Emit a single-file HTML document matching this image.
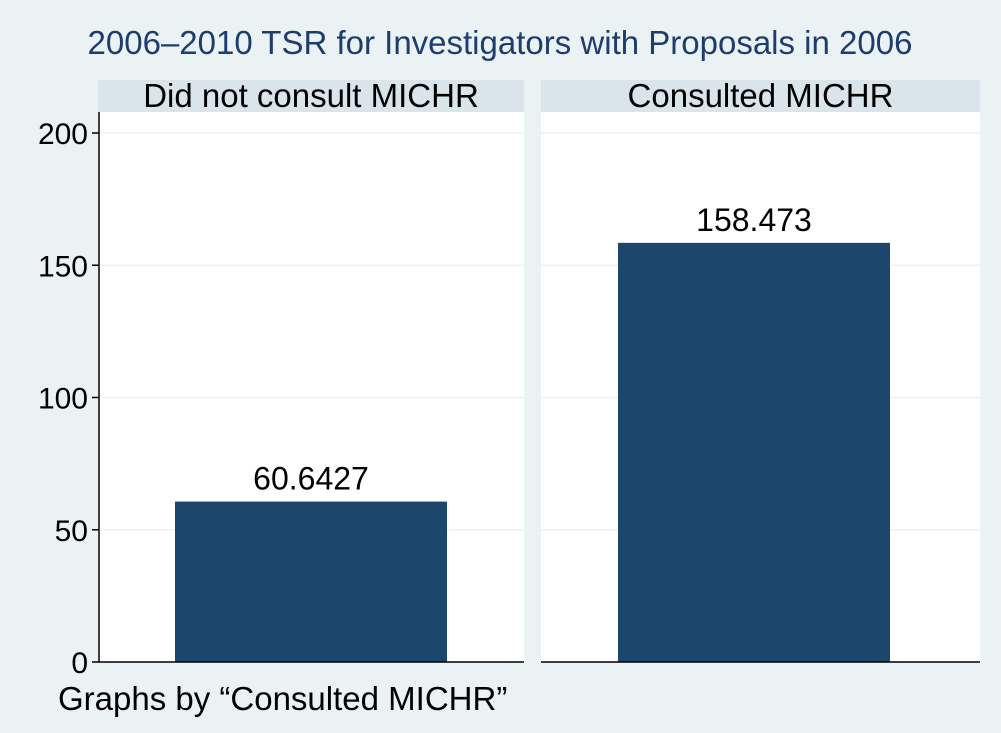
<!DOCTYPE html>
<html><head><meta charset="utf-8"><style>
body{margin:0;background:#eaf2f3;}
svg{display:block;font-family:"Liberation Sans",sans-serif;}
</style></head><body>
<svg width="1001" height="733">
<rect width="1001" height="733" fill="#eaf2f3"/>
<text x="500" y="54" text-anchor="middle" font-size="33" fill="#1e3c6e">2006–2010 TSR for Investigators with Proposals in 2006</text>
<g id="panels"></g>
<text x="58" y="710" font-size="33" fill="#000">Graphs by “Consulted MICHR”</text>
</svg>
<script>
const categories=["Did not consult MICHR","Consulted MICHR"];
const values=[60.6427,158.473];
const valueLabels=["60.6427","158.473"];
const yTicks=[0,50,100,150,200];
const ns="http://www.w3.org/2000/svg";
const g=document.getElementById('panels');
const y0=662,yTop=133,yMax=200;
function yS(v){return y0-(v/yMax)*(y0-yTop);}
const panels=[{x:98,w:426},{x:541,w:439}];
function mk(t,a,p){const e=document.createElementNS(ns,t);for(const k in a)e.setAttribute(k,a[k]);(p||g).appendChild(e);return e;}
categories.forEach((c,i)=>{
 const p=panels[i];
 const hdr=mk('rect',{x:p.x,y:80,width:p.w,height:32,fill:'#d9e5ea'});
 
 
 const ht=mk('text',{x:p.x+p.w/2,y:107,'text-anchor':'middle','font-size':33,fill:'#000'});ht.textContent=c;
 
 
 const pr=mk('rect',{x:p.x,y:112,width:p.w,height:y0-112,fill:'#fff'});
 
 
 yTicks.forEach(t=>{if(t>0){const gl=mk('line',{x1:p.x,x2:p.x+p.w,y1:yS(t),y2:yS(t),stroke:'#eaf2f3','stroke-width':1.5});
 
 }});
 const bx=p.x+77,bw=272;
 const b=mk('rect',{x:bx,y:yS(values[i]),width:bw,height:y0-yS(values[i]),fill:'#1c466c'});
 
 
 const vl=mk('text',{x:bx+bw/2,y:yS(values[i])-12,'text-anchor':'middle','font-size':32,fill:'#000'});vl.textContent=valueLabels[i];
 
 
 const xl=mk('line',{x1:p.x,x2:p.x+p.w,y1:y0,y2:y0,stroke:'#000','stroke-width':1.5});
 
 
});
const ax=mk('line',{x1:99,x2:99,y1:112,y2:y0,stroke:'#000','stroke-width':1.5});


yTicks.forEach(t=>{
 const tk=mk('line',{x1:92,x2:99,y1:yS(t),y2:yS(t),stroke:'#000','stroke-width':1.5});
 
 
 const tl=mk('text',{x:88,y:yS(t)+11,'text-anchor':'end','font-size':30,fill:'#000'});tl.textContent=t;
 
 
});
</script>
</body></html>
